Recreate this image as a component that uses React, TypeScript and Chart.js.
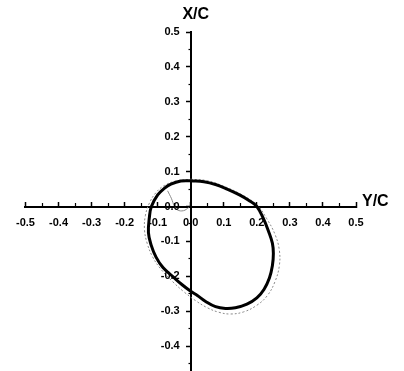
import React, { useEffect, useRef } from "react";
import { Chart, registerables } from "chart.js";

Chart.register(...registerables);

const X_TICKS = [-0.5, -0.4, -0.3, -0.2, -0.1, 0, 0.1, 0.2, 0.3, 0.4, 0.5];
const X_TICK_LABELS = ["-0.5", "-0.4", "-0.3", "-0.2", "-0.1", "0.0", "0.1", "0.2", "0.3", "0.4", "0.5"];
const X_MINOR = [-0.45, -0.35, -0.25, -0.15, -0.05, 0.05, 0.15, 0.25, 0.35, 0.45];
const Y_TICKS = [-0.4, -0.3, -0.2, -0.1, 0, 0.1, 0.2, 0.3, 0.4, 0.5];
const Y_TICK_LABELS = ["-0.4", "-0.3", "-0.2", "-0.1", "0.0", "0.1", "0.2", "0.3", "0.4", "0.5"];
const Y_MINOR = [-0.45, -0.35, -0.25, -0.15, -0.05, 0.05, 0.15, 0.25, 0.35, 0.45];

const X_TITLE = "Y/C";
const Y_TITLE = "X/C";

// Main (thick black) loop: Y/C values and X/C values
const MAIN_YC = [0.0, 0.04, 0.075, 0.11, 0.146, 0.175, 0.2, 0.22, 0.235, 0.247, 0.25, 0.247, 0.238, 0.222, 0.2, 0.17, 0.135, 0.105, 0.075, 0.045, 0.02, 0.0, -0.025, -0.055, -0.084, -0.105, -0.12, -0.128, -0.125, -0.119, -0.1, -0.08, -0.06, -0.03, 0.0];
const MAIN_XC = [0.074, 0.071, 0.063, 0.05, 0.034, 0.018, 0.0, -0.035, -0.07, -0.105, -0.135, -0.17, -0.205, -0.237, -0.262, -0.28, -0.29, -0.292, -0.287, -0.272, -0.255, -0.243, -0.225, -0.2, -0.175, -0.145, -0.11, -0.075, -0.03, 0.0, 0.033, 0.052, 0.064, 0.073, 0.074];

// Secondary (thin grey) loop
const GREY_YC = [0.0, 0.05, 0.1, 0.15, 0.2, 0.23, 0.255, 0.268, 0.268, 0.255, 0.232, 0.2, 0.16, 0.12, 0.085, 0.05, 0.015, -0.02, -0.055, -0.09, -0.115, -0.132, -0.14, -0.137, -0.125, -0.105, -0.08, -0.045, 0.0];
const GREY_XC = [0.078, 0.074, 0.058, 0.036, 0.005, -0.035, -0.08, -0.125, -0.17, -0.215, -0.255, -0.283, -0.302, -0.308, -0.303, -0.29, -0.27, -0.245, -0.215, -0.18, -0.145, -0.105, -0.065, -0.025, 0.01, 0.04, 0.06, 0.073, 0.078];

// Small grey hook near the origin
const HOOK_YC = [-0.07, -0.058, -0.05, -0.04, -0.022, -0.006];
const HOOK_XC = [0.045, 0.022, 0.002, -0.01, -0.012, -0.003];

const FONT = '"Liberation Sans", Arial, sans-serif';

const toPoints = (xs: number[], ys: number[]) => xs.map((x, i) => ({ x, y: ys[i] }));

const labelPlugin = {
  id: "axisText",
  afterDraw(chart: any) {
    const { ctx, scales } = chart;
    const xs = scales.x;
    const ys = scales.y;
    const axisX = xs.getPixelForValue(0);
    ctx.save();
    ctx.fillStyle = "#000";
    // y tick labels, left of the centred axis
    ctx.font = `bold 11px ${FONT}`;
    ctx.textAlign = "right";
    ctx.textBaseline = "middle";
    Y_TICKS.forEach((v, i) => {
      ctx.fillText(Y_TICK_LABELS[i], axisX - 11, ys.getPixelForValue(v));
    });
    // axis titles
    ctx.font = `bold 16px ${FONT}`;
    ctx.textAlign = "left";
    ctx.fillText(X_TITLE, xs.getPixelForValue(0.5) + 6, ys.getPixelForValue(0) - 5);
    ctx.textAlign = "center";
    ctx.fillText(Y_TITLE, axisX + 5, ys.getPixelForValue(0.5) - 17);
    ctx.restore();
  },
};

export default function App() {
  const ref = useRef<HTMLCanvasElement | null>(null);

  useEffect(() => {
    if (!ref.current) return;
    const tickFont = { family: FONT, size: 11, weight: "bold" as const };
    const chart = new Chart(ref.current, {
      type: "scatter",
      data: {
        datasets: [
          {
            data: toPoints(MAIN_YC, MAIN_XC),
            showLine: true,
            borderColor: "#000",
            borderWidth: 3,
            pointRadius: 0,
            tension: 0.4,
            fill: false,
            order: 0,
          },
          {
            data: toPoints(GREY_YC, GREY_XC),
            showLine: true,
            borderColor: "#8a8a8a",
            borderWidth: 1,
            borderDash: [2, 2],
            pointRadius: 0,
            tension: 0.4,
            fill: false,
            order: 1,
          },
          {
            data: toPoints(HOOK_YC, HOOK_XC),
            showLine: true,
            borderColor: "#8a8a8a",
            borderWidth: 1,
            pointRadius: 0,
            tension: 0.4,
            fill: false,
            order: 2,
          },
        ],
      },
      options: {
        animation: false,
        responsive: false,
        layout: { padding: { left: 20, right: 48, top: 32, bottom: 20 } },
        plugins: { legend: { display: false }, tooltip: { enabled: false } },
        scales: {
          x: {
            type: "linear",
            min: -0.5,
            max: 0.5,
            position: { y: 0 } as any,
            afterBuildTicks: (axis: any) => {
              axis.ticks = X_TICKS.map((v) => ({ value: v }));
            },
            grid: { display: true, drawOnChartArea: false, drawTicks: true, tickLength: -6, tickWidth: 1.5, tickColor: "#000" },
            border: { display: true, color: "#000", width: 2 },
            ticks: {
              color: "#000",
              font: tickFont,
              padding: 16,
              maxRotation: 0,
              autoSkip: false,
              callback: (v: any) => {
                const i = X_TICKS.findIndex((t) => Math.abs(t - Number(v)) < 1e-9);
                return i >= 0 ? X_TICK_LABELS[i] : "";
              },
            },
          },
          x2: {
            type: "linear",
            axis: "x",
            min: -0.5,
            max: 0.5,
            position: { y: 0 } as any,
            afterBuildTicks: (axis: any) => {
              axis.ticks = X_MINOR.map((v) => ({ value: v }));
            },
            grid: { display: true, drawOnChartArea: false, drawTicks: true, tickLength: -4, tickWidth: 1.2, tickColor: "#000" },
            border: { display: false },
            ticks: { display: false },
          },
          y: {
            type: "linear",
            min: -0.5,
            max: 0.5,
            position: { x: 0 } as any,
            afterBuildTicks: (axis: any) => {
              axis.ticks = Y_TICKS.map((v) => ({ value: v }));
            },
            grid: { display: true, drawOnChartArea: false, drawTicks: true, tickLength: 4, tickWidth: 1.5, tickColor: "#000" },
            border: { display: true, color: "#000", width: 2 },
            ticks: { display: false },
          },
          y2: {
            type: "linear",
            axis: "y",
            min: -0.5,
            max: 0.5,
            position: { x: 0 } as any,
            afterBuildTicks: (axis: any) => {
              axis.ticks = Y_MINOR.map((v) => ({ value: v }));
            },
            grid: { display: true, drawOnChartArea: false, drawTicks: true, tickLength: 2.5, tickWidth: 1.2, tickColor: "#000" },
            border: { display: false },
            ticks: { display: false },
          },
        },
      },
      plugins: [labelPlugin],
    } as any);
    return () => chart.destroy();
  }, []);

  return (
    <div style={{ position: "fixed", left: 0, top: 0, width: 404, height: 371, overflow: "hidden", background: "#fff" }}>
      <canvas ref={ref} width={404} height={401} style={{ display: "block" }} />
    </div>
  );
}
